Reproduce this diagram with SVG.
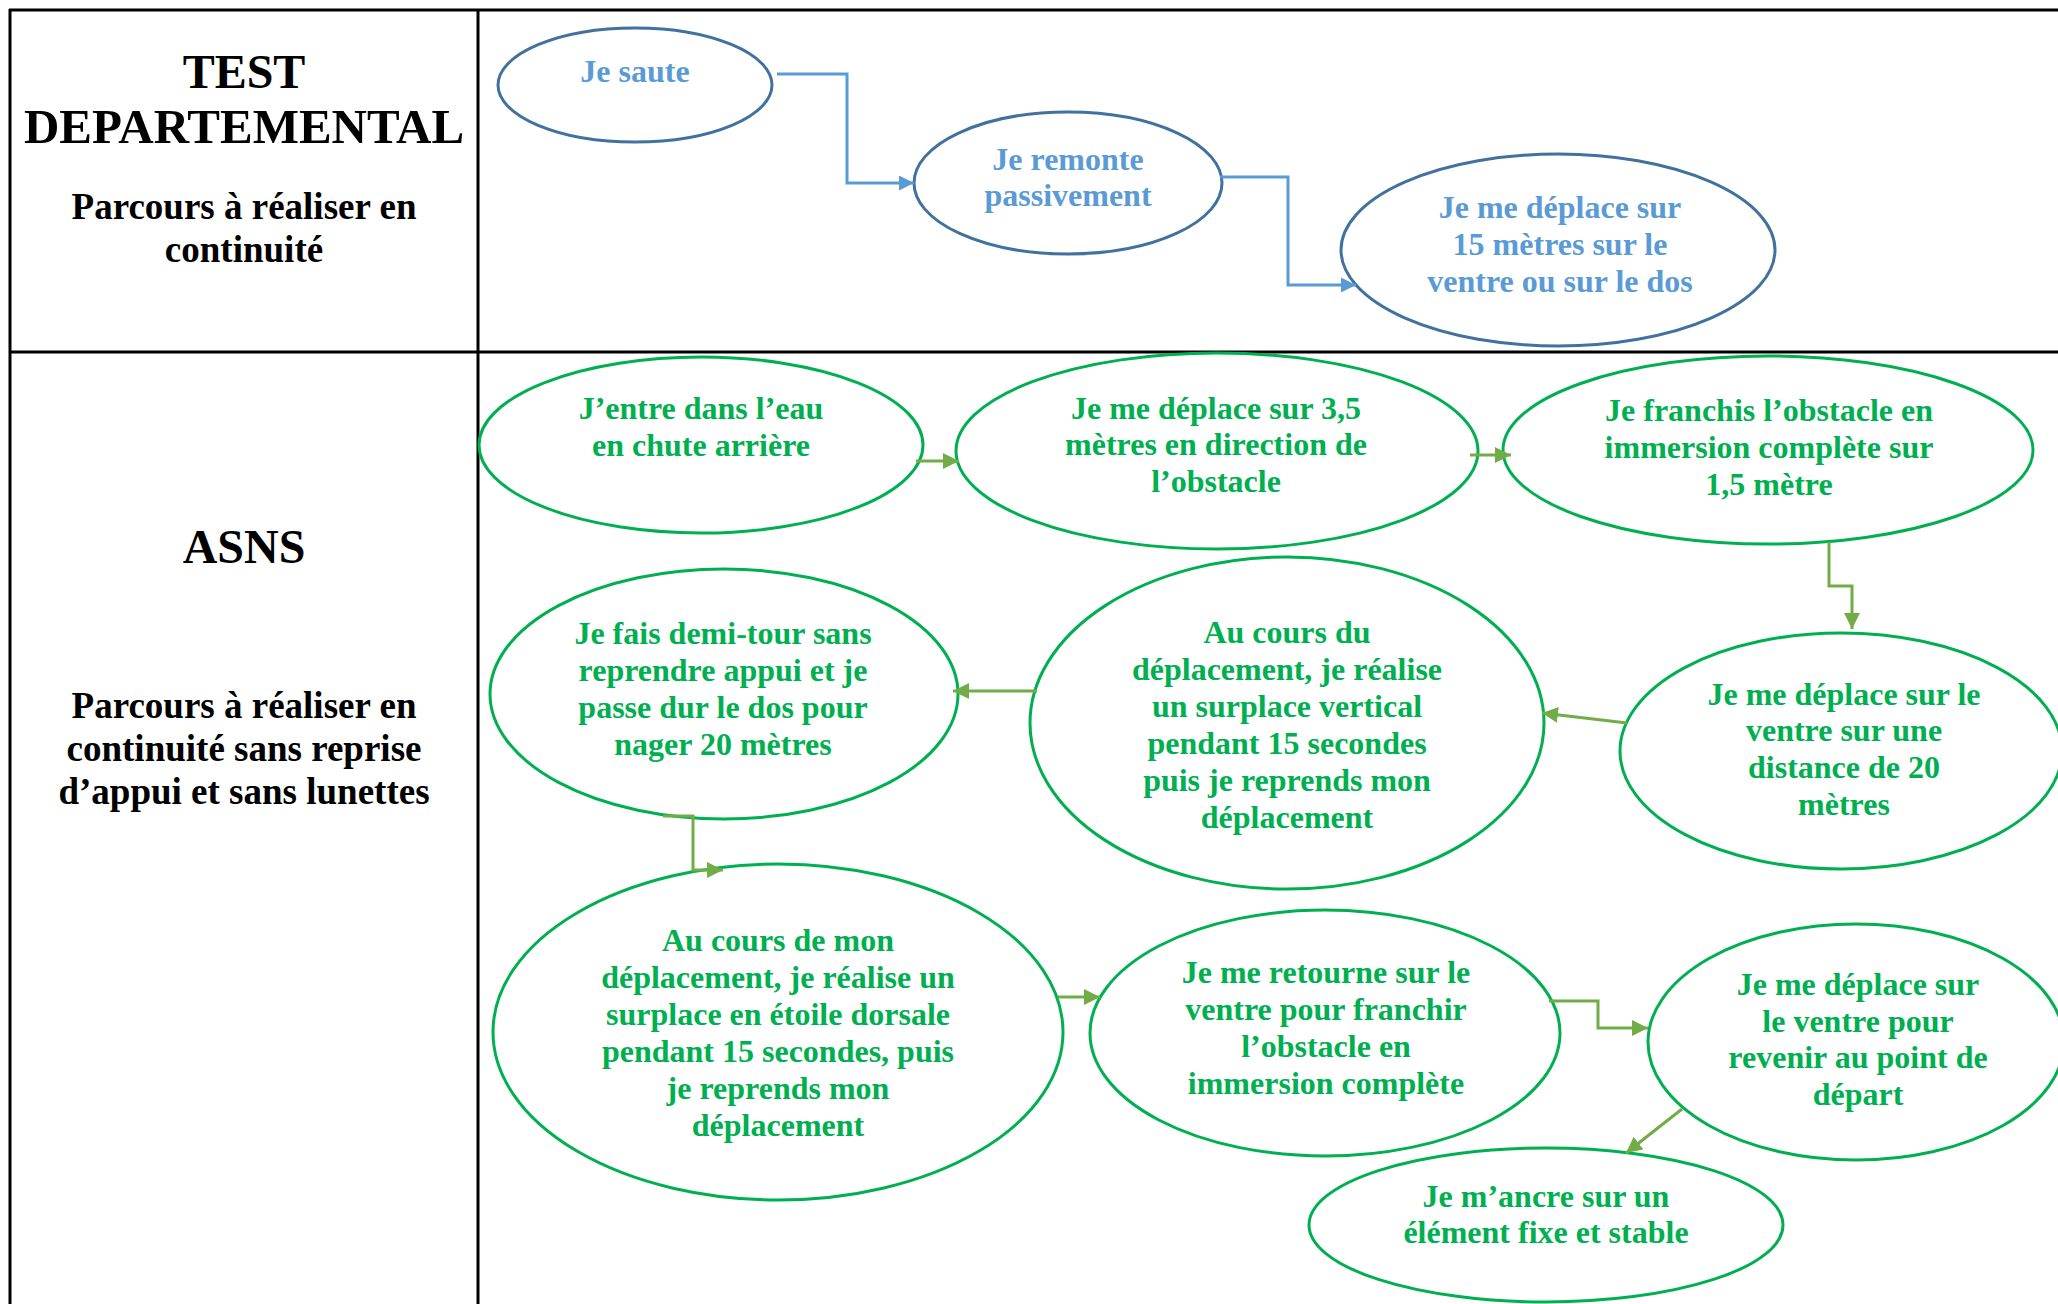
<svg xmlns="http://www.w3.org/2000/svg" width="2058" height="1304" viewBox="0 0 2058 1304">
<style>
.grid{stroke:#000;stroke-width:3;fill:none}
.hdr{font-family:"Liberation Serif","Times New Roman",serif;font-weight:bold;fill:#000;text-anchor:middle}
.big{font-size:48px}
.wide{font-size:49px}
.mid{font-size:37px}
.bn{fill:#fff;stroke:#41719C;stroke-width:3}
.gn{fill:#fff;stroke:#00B050;stroke-width:3}
.bt{font-family:"Liberation Serif","Times New Roman",serif;font-weight:bold;font-size:32px;fill:#5B9BD5;text-anchor:middle}
.gt{font-family:"Liberation Serif","Times New Roman",serif;font-weight:bold;font-size:32px;fill:#00B050;text-anchor:middle}
.bc{fill:none;stroke:#5B9BD5;stroke-width:3}
.gc{fill:none;stroke:#70AD47;stroke-width:3}
</style>
<defs>
<marker id="ab" markerUnits="userSpaceOnUse" markerWidth="16" markerHeight="16" refX="15" refY="7.5" orient="auto"><path d="M0,0 L15,7.5 L0,15 z" fill="#5B9BD5"/></marker>
<marker id="ag" markerUnits="userSpaceOnUse" markerWidth="17" markerHeight="17" refX="16" refY="8" orient="auto"><path d="M0,0 L16,8 L0,16 z" fill="#70AD47"/></marker>
</defs>
<rect width="2058" height="1304" fill="#fff"/>
<g id="table">
<line class="grid" x1="9" y1="10" x2="2058" y2="10"/>
<line class="grid" x1="9" y1="352" x2="2058" y2="352"/>
<line class="grid" x1="10" y1="9" x2="10" y2="1304"/>
<line class="grid" x1="478" y1="9" x2="478" y2="1304"/>
<text class="hdr big" x="244" y="88">TEST</text>
<text class="hdr wide" x="244" y="143">DEPARTEMENTAL</text>
<text class="hdr mid" x="244" y="219">Parcours à réaliser en</text>
<text class="hdr mid" x="244" y="262">continuité</text>
<text class="hdr big" x="244" y="563">ASNS</text>
<text class="hdr mid" x="244" y="718">Parcours à réaliser en</text>
<text class="hdr mid" x="244" y="761">continuité sans reprise</text>
<text class="hdr mid" x="244" y="804">d’appui et sans lunettes</text>
</g>
<g id="n-saute">
<ellipse class="bn" cx="635" cy="85" rx="137" ry="57"/>
<text class="bt" x="635" y="82">Je saute</text>
</g>
<g id="n-remonte">
<ellipse class="bn" cx="1068" cy="183" rx="154" ry="71"/>
<text class="bt" x="1068" y="170">Je remonte</text>
<text class="bt" x="1068" y="206">passivement</text>
</g>
<g id="n-deplace15">
<ellipse class="bn" cx="1558" cy="250" rx="217" ry="96"/>
<text class="bt" x="1560" y="218">Je me déplace sur</text>
<text class="bt" x="1560" y="255">15 mètres sur le</text>
<text class="bt" x="1560" y="292">ventre ou sur le dos</text>
</g>
<g id="n-entre">
<ellipse class="gn" cx="701" cy="445" rx="222" ry="88"/>
<text class="gt" x="701" y="419">J’entre dans l’eau</text>
<text class="gt" x="701" y="456">en chute arrière</text>
</g>
<g id="n-deplace35">
<ellipse class="gn" cx="1217" cy="451" rx="261" ry="98"/>
<text class="gt" x="1216" y="419">Je me déplace sur 3,5</text>
<text class="gt" x="1216" y="455">mètres en direction de</text>
<text class="gt" x="1216" y="492">l’obstacle</text>
</g>
<g id="n-franchis">
<ellipse class="gn" cx="1768" cy="450" rx="265" ry="94"/>
<text class="gt" x="1769" y="421">Je franchis l’obstacle en</text>
<text class="gt" x="1769" y="458">immersion complète sur</text>
<text class="gt" x="1769" y="495">1,5 mètre</text>
</g>
<g id="n-ventre20">
<ellipse class="gn" cx="1841" cy="751" rx="221" ry="118"/>
<text class="gt" x="1844" y="705">Je me déplace sur le</text>
<text class="gt" x="1844" y="741">ventre sur une</text>
<text class="gt" x="1844" y="778">distance de 20</text>
<text class="gt" x="1844" y="815">mètres</text>
</g>
<g id="n-surplace-vertical">
<ellipse class="gn" cx="1287" cy="723" rx="257" ry="166"/>
<text class="gt" x="1287" y="643">Au cours du</text>
<text class="gt" x="1287" y="680">déplacement, je réalise</text>
<text class="gt" x="1287" y="717">un surplace vertical</text>
<text class="gt" x="1287" y="754">pendant 15 secondes</text>
<text class="gt" x="1287" y="791">puis je reprends mon</text>
<text class="gt" x="1287" y="828">déplacement</text>
</g>
<g id="n-demitour">
<ellipse class="gn" cx="724" cy="694" rx="234" ry="125"/>
<text class="gt" x="723" y="644">Je fais demi-tour sans</text>
<text class="gt" x="723" y="681">reprendre appui et je</text>
<text class="gt" x="723" y="718">passe dur le dos pour</text>
<text class="gt" x="723" y="755">nager 20 mètres</text>
</g>
<g id="n-etoile">
<ellipse class="gn" cx="778" cy="1032" rx="285" ry="168"/>
<text class="gt" x="778" y="951">Au cours de mon</text>
<text class="gt" x="778" y="988">déplacement, je réalise un</text>
<text class="gt" x="778" y="1025">surplace en étoile dorsale</text>
<text class="gt" x="778" y="1062">pendant 15 secondes, puis</text>
<text class="gt" x="778" y="1099">je reprends mon</text>
<text class="gt" x="778" y="1136">déplacement</text>
</g>
<g id="n-retourne">
<ellipse class="gn" cx="1325" cy="1033" rx="235" ry="123"/>
<text class="gt" x="1326" y="983">Je me retourne sur le</text>
<text class="gt" x="1326" y="1020">ventre pour franchir</text>
<text class="gt" x="1326" y="1057">l’obstacle en</text>
<text class="gt" x="1326" y="1094">immersion complète</text>
</g>
<g id="n-retour-depart">
<ellipse class="gn" cx="1856" cy="1042" rx="208" ry="118"/>
<text class="gt" x="1858" y="995">Je me déplace sur</text>
<text class="gt" x="1858" y="1032">le ventre pour</text>
<text class="gt" x="1858" y="1068">revenir au point de</text>
<text class="gt" x="1858" y="1105">départ</text>
</g>
<g id="n-ancre">
<ellipse class="gn" cx="1546" cy="1225" rx="237" ry="77"/>
<text class="gt" x="1546" y="1207">Je m’ancre sur un</text>
<text class="gt" x="1546" y="1243">élément fixe et stable</text>
</g>
<g id="connectors">
<polyline class="bc" points="777,74 847,74 847,183 914,183" marker-end="url(#ab)"/>
<polyline class="bc" points="1220,177 1288,177 1288,285 1356,285" marker-end="url(#ab)"/>
<line class="gc" x1="916" y1="461" x2="959" y2="461" marker-end="url(#ag)"/>
<line class="gc" x1="1470" y1="455" x2="1511" y2="455" marker-end="url(#ag)"/>
<polyline class="gc" points="1829,542 1829,586 1852,586 1852,629" marker-end="url(#ag)"/>
<line class="gc" x1="1627" y1="723" x2="1542" y2="713" marker-end="url(#ag)"/>
<line class="gc" x1="1037" y1="691" x2="953" y2="691" marker-end="url(#ag)"/>
<polyline class="gc" points="663,816 693,816 693,870 723,870" marker-end="url(#ag)"/>
<line class="gc" x1="1058" y1="997" x2="1100" y2="997" marker-end="url(#ag)"/>
<polyline class="gc" points="1549,1001 1598,1001 1598,1028 1648,1028" marker-end="url(#ag)"/>
<line class="gc" x1="1682" y1="1109" x2="1626" y2="1153" marker-end="url(#ag)"/>
</g>
</svg>
